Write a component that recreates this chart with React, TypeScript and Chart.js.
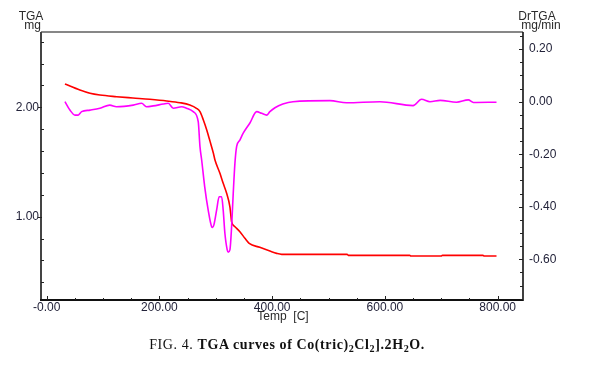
import React, { useEffect, useRef } from "react";
import { Chart, registerables } from "chart.js";

Chart.register(...registerables);

// TGA (mg) vs temperature (C) - red curve, left axis
const tgaTemp = [32.5, 59, 77, 94.5, 124, 153, 183, 213, 236.5, 254, 265.8, 272, 278, 284, 290, 295.8, 298.6, 307.4, 313.2, 319.3, 325.1, 326.4, 328.1, 334, 342.8, 351.7, 359.3, 378, 396, 408, 417, 533, 535, 644, 646, 700, 702, 774, 776, 798];
const tgaMass = [2.213, 2.158, 2.128, 2.112, 2.097, 2.085, 2.073, 2.058, 2.042, 2.021, 1.991, 1.960, 1.884, 1.793, 1.686, 1.580, 1.518, 1.397, 1.305, 1.214, 1.091, 1.031, 0.954, 0.909, 0.863, 0.803, 0.757, 0.720, 0.686, 0.665, 0.656, 0.656, 0.647, 0.647, 0.641, 0.641, 0.647, 0.647, 0.641, 0.641];

// DrTGA (mg/min) vs temperature (C) - magenta curve, right axis
const dtgTemp = [32.5, 41.3, 50.2, 56, 62, 77, 94.5, 112, 124, 153.6, 168.5, 177, 189, 206.8, 215.7, 224.6, 239.5, 248, 260, 268.9, 272, 275, 280.4, 286.6, 292.7, 294.4, 296.7, 301.5, 306, 310.4, 313.2, 316.2, 320.3, 322, 325.1, 328.1, 331, 334, 337, 342.8, 348.7, 360.6, 372.5, 381.3, 390.2, 396, 405, 419, 437, 502.6, 532, 591, 650, 665, 680, 698, 727, 748, 757, 798];
const dtgRate = [0.0, -0.032, -0.051, -0.051, -0.038, -0.032, -0.025, -0.013, -0.019, -0.013, -0.006, -0.019, -0.016, -0.009, -0.006, -0.025, -0.019, -0.025, -0.038, -0.076, -0.171, -0.222, -0.324, -0.413, -0.476, -0.479, -0.469, -0.413, -0.362, -0.362, -0.413, -0.501, -0.564, -0.573, -0.564, -0.476, -0.349, -0.234, -0.171, -0.146, -0.120, -0.081, -0.038, -0.044, -0.051, -0.038, -0.023, -0.009, 0.0, 0.004, -0.004, 0.0, -0.015, 0.009, 0.0, 0.005, -0.002, 0.007, -0.003, -0.002];

// axis ranges / ticks
const xRange = [-10, 845];
const xStep = 50;
const xLabelEvery = 200;
const yRange = [0.239, 2.688];
const yStep = 0.2;
const y1Range = [-0.755, 0.2653];
const y1Step = 0.05;
const y1LabelEvery = 0.2;

const FONT = '"Liberation Sans", Arial, sans-serif';
const TICK_COLOR = "#23233a";
const TITLE_COLOR = "#2a2a2a";

const isMult = (v: number, m: number) => Math.abs(v / m - Math.round(v / m)) < 1e-6;

export default function App() {
  const ref = useRef<HTMLCanvasElement>(null);

  useEffect(() => {
    const framePlugin = {
      id: "frame",
      afterDraw(chart: any) {
        const { ctx, chartArea } = chart;
        const { left, right, top, bottom } = chartArea;
        const sx = chart.scales.x;
        const sy = chart.scales.y;
        const sy1 = chart.scales.y1;
        ctx.save();
        // frame
        ctx.strokeStyle = "#111";
        ctx.lineWidth = 1.2;
        ctx.beginPath();
        ctx.moveTo(left, top);
        ctx.lineTo(right, top);
        ctx.stroke();
        ctx.lineWidth = 2;
        ctx.strokeStyle = "#444";
        ctx.beginPath();
        ctx.moveTo(left, top);
        ctx.lineTo(left, bottom);
        ctx.stroke();
        ctx.strokeStyle = "#111";
        ctx.beginPath();
        ctx.moveTo(left - 1, bottom);
        ctx.lineTo(right, bottom);
        ctx.stroke();
        ctx.lineWidth = 1.6;
        ctx.beginPath();
        ctx.moveTo(right, top);
        ctx.lineTo(right, bottom + 1);
        ctx.stroke();

        // tick marks
        ctx.lineWidth = 1;
        ctx.strokeStyle = "#222";
        ctx.beginPath();
        for (const t of sy.ticks) {
          const p = Math.round(sy.getPixelForValue(t.value)) + 0.5;
          if (isMult(t.value, 1)) {
            ctx.moveTo(left - 3, p);
            ctx.lineTo(left + 1, p);
          } else {
            ctx.moveTo(left, p);
            ctx.lineTo(left + 3, p);
          }
        }
        for (const t of sy1.ticks) {
          const p = Math.round(sy1.getPixelForValue(t.value)) + 0.5;
          const len = isMult(t.value, y1LabelEvery) ? 4 : 3;
          ctx.moveTo(right, p);
          ctx.lineTo(right - len, p);
        }
        for (const t of sx.ticks) {
          const p = Math.round(sx.getPixelForValue(t.value)) + 0.5;
          const len = isMult(t.value, xLabelEvery) ? 4 : 2;
          ctx.moveTo(p, bottom);
          ctx.lineTo(p, bottom - len);
        }
        ctx.stroke();

        // axis titles
        ctx.fillStyle = TITLE_COLOR;
        ctx.font = `12px ${FONT}`;
        ctx.textAlign = "center";
        ctx.textBaseline = "alphabetic";
        ctx.fillText("TGA", 31, 19.5);
        ctx.fillText("mg", 32.5, 29);
        ctx.fillText("DrTGA", 537, 19.5);
        ctx.fillText("mg/min", 541, 29);
        ctx.fillText("Temp  [C]", 283, 319.5);
        ctx.restore();
      },
    };

    const chart = new Chart(ref.current as HTMLCanvasElement, {
      type: "line",
      data: {
        datasets: [
          {
            label: "DrTGA",
            data: dtgTemp.map((t, i) => ({ x: t, y: dtgRate[i] })),
            yAxisID: "y1",
            borderColor: "#ff00ff",
            borderWidth: 1.6,
            pointRadius: 0,
            cubicInterpolationMode: "monotone",
            fill: false,
          },
          {
            label: "TGA",
            data: tgaTemp.map((t, i) => ({ x: t, y: tgaMass[i] })),
            yAxisID: "y",
            borderColor: "#ff0000",
            borderWidth: 1.6,
            pointRadius: 0,
            cubicInterpolationMode: "monotone",
            fill: false,
          },
        ],
      },
      options: {
        animation: false,
        responsive: false,
        events: [],
        layout: { padding: { top: 32, left: 0, right: 0, bottom: 0 } },
        plugins: {
          legend: { display: false },
          tooltip: { enabled: false },
          title: { display: false },
        },
        scales: {
          x: {
            type: "linear",
            position: "bottom",
            min: xRange[0],
            max: xRange[1],
            grid: { display: false, drawTicks: false },
            border: { display: false },
            ticks: {
              stepSize: xStep,
              includeBounds: false,
              autoSkip: false,
              maxRotation: 0,
              minRotation: 0,
              maxTicksLimit: 1000,
              padding: 0,
              color: TICK_COLOR,
              font: { family: FONT, size: 12 },
              callback: (v: any) => {
                const n = Number(v);
                if (!isMult(n, xLabelEvery)) return "";
                if (Math.abs(n) < 1e-9) return "-0.00";
                return n.toFixed(2);
              },
            },
            afterFit: (s: any) => {
              s.height = 74;
            },
          },
          y: {
            type: "linear",
            position: "left",
            min: yRange[0],
            max: yRange[1],
            grid: { display: false, drawTicks: false },
            border: { display: false },
            ticks: {
              stepSize: yStep,
              includeBounds: false,
              autoSkip: false,
              maxTicksLimit: 1000,
              padding: 2,
              color: TICK_COLOR,
              font: { family: FONT, size: 12 },
              callback: (v: any) => {
                const n = Number(v);
                return isMult(n, 1) ? n.toFixed(2) : "";
              },
            },
            afterFit: (s: any) => {
              s.width = 41;
            },
          },
          y1: {
            type: "linear",
            position: "right",
            min: y1Range[0],
            max: y1Range[1],
            grid: { display: false, drawTicks: false },
            border: { display: false },
            ticks: {
              stepSize: y1Step,
              includeBounds: false,
              autoSkip: false,
              maxTicksLimit: 1000,
              padding: 6,
              color: TICK_COLOR,
              font: { family: FONT, size: 12 },
              callback: (v: any) => {
                const n = Number(v);
                if (!isMult(n, y1LabelEvery)) return "";
                const r = Math.round(n * 100) / 100;
                return Math.abs(r) < 1e-9 ? "0.00" : r.toFixed(2);
              },
            },
            afterFit: (s: any) => {
              s.width = 73;
            },
          },
        },
      },
      plugins: [framePlugin],
    } as any);

    return () => chart.destroy();
  }, []);

  const subStyle: React.CSSProperties = { fontSize: "0.72em", verticalAlign: "-0.3em", lineHeight: 0 };

  return (
    <div style={{ position: "absolute", left: 0, top: 0, width: 596, height: 374, background: "#fff" }}>
      <canvas ref={ref} width={596} height={374} style={{ display: "block", width: 596, height: 374 }} />
      <div
        style={{
          position: "absolute",
          left: 0,
          top: 337,
          width: 574,
          textAlign: "center",
          fontFamily: '"Liberation Serif", "Times New Roman", serif',
          fontSize: 14,
          letterSpacing: "0.6px",
          lineHeight: "16px",
          color: "#111",
          whiteSpace: "nowrap",
        }}
      >
        FIG. 4. <b>TGA curves of Co(tric)<sub style={subStyle}>2</sub>Cl<sub style={subStyle}>2</sub>].2H<sub style={subStyle}>2</sub>O.</b>
      </div>
    </div>
  );
}
